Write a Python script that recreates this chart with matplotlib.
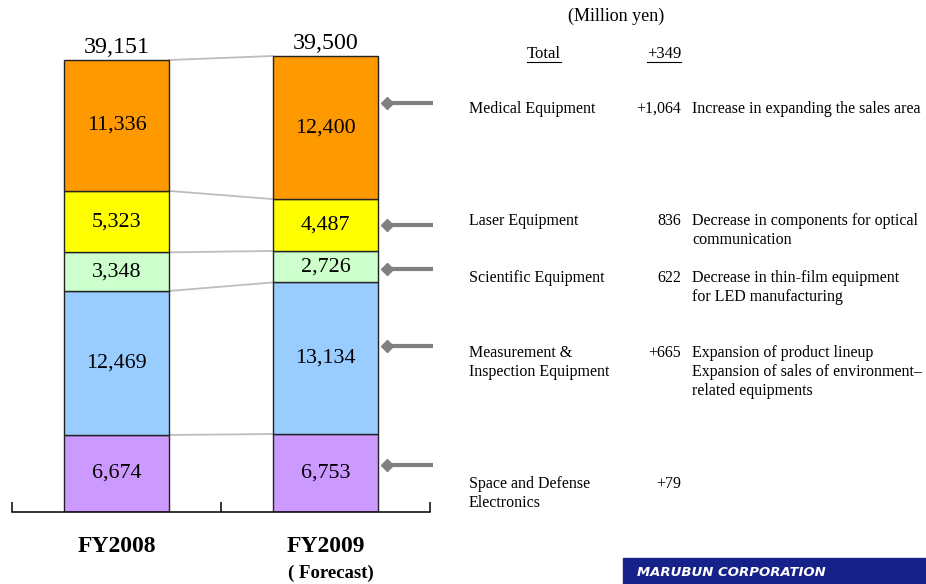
import matplotlib
matplotlib.use("Agg")
import matplotlib.pyplot as plt
from matplotlib.patches import Rectangle

plt.rcParams['font.family'] = ['Liberation Serif', 'DejaVu Serif']

# stacked segments, bottom to top
segments = ['Space and Defense Electronics', 'Measurement & Inspection Equipment',
            'Scientific Equipment', 'Laser Equipment', 'Medical Equipment']
fy2008 = [6674, 12469, 3348, 5323, 11336]
fy2009 = [6753, 13134, 2726, 4487, 12400]
totals = ['39,151', '39,500']
seg_colors = ['#CC99FF', '#99CCFF', '#CCFFCC', '#FFFF00', '#FF9900']

# right-hand breakdown, top to bottom
row_names = ['Medical Equipment', 'Laser Equipment', 'Scientific Equipment',
             'Measurement &\nInspection Equipment', 'Space and Defense\nElectronics']
row_changes = ['+1,064', '836', '622', '+665', '+79']
row_notes = ['Increase in expanding the sales area',
             'Decrease in components for optical\ncommunication',
             'Decrease in thin-film equipment\nfor LED manufacturing',
             'Expansion of product lineup\nExpansion of sales of environment\u2013\nrelated equipments',
             '']
row_y = [109, 221, 278, 353, 484]
arrow_y = [103, 225, 269, 346, 465]

W, H = 926, 584
fig = plt.figure(figsize=(W / 100, H / 100), dpi=100)
ax = fig.add_axes([12 / W, 72 / H, 418 / W, 461.8 / H])

bottoms = [0, 0]
cum = [[0], [0]]
for i in range(len(segments)):
    vals = [fy2008[i], fy2009[i]]
    ax.bar([0, 1], vals, bottom=bottoms, width=0.5, color=seg_colors[i],
           edgecolor='#222222', linewidth=1, zorder=2)
    for j in range(2):
        ax.text(j, bottoms[j] + vals[j] / 2, '{:,}'.format(vals[j]),
                ha='center', va='center', fontsize=15.8, zorder=3)
        cum[j].append(bottoms[j] + vals[j])
    bottoms = [bottoms[0] + vals[0], bottoms[1] + vals[1]]

# connector lines between the two bars
for k in range(1, len(cum[0])):
    ax.plot([0.25, 0.75], [cum[0][k], cum[1][k]], color='#bdbdbd', lw=1.3, zorder=1)

for j in range(2):
    ax.text(j, bottoms[j] + 200, totals[j], ha='center', va='bottom', fontsize=17.3)

ax.set_xlim(-0.5, 1.5)
ax.set_ylim(0, 40000)
for s in ['top', 'left', 'right']:
    ax.spines[s].set_visible(False)
ax.spines['bottom'].set_linewidth(1.1)
ax.set_xticks([-0.5, 0.5, 1.5])
ax.set_xticklabels([])
ax.tick_params(axis='x', direction='in', length=7, width=1.1)
ax.set_yticks([])

# overlay in pixel coordinates for the annotations
ov = fig.add_axes([0, 0, 1, 1])
ov.set_xlim(0, W)
ov.set_ylim(H, 0)
ov.axis('off')

ov.text(117, 546, 'FY2008', ha='center', va='center', fontsize=17, fontweight='bold')
ov.text(326, 546, 'FY2009', ha='center', va='center', fontsize=17, fontweight='bold')
ov.text(331, 573, '( Forecast)', ha='center', va='center', fontsize=13.5, fontweight='bold')

ov.text(616, 16, '(Million yen)', ha='center', va='center', fontsize=13)
t1 = ov.text(544, 54, 'Total', ha='center', va='center', fontsize=12)
t2 = ov.text(681, 54, '+349', ha='right', va='center', fontsize=12)

for y in arrow_y:
    ov.plot([390, 433], [y, y], color='#808080', lw=3, solid_capstyle='butt')
    ov.plot(387, y, marker='D', ms=6.5, color='#808080', mec='#808080')

line_h = 19
for name, chg, note, y in zip(row_names, row_changes, row_notes, row_y):
    for i, ln in enumerate(name.split('\n')):
        ov.text(469, y + i * line_h, ln, ha='left', va='center', fontsize=11.5)
    ov.text(681, y, chg, ha='right', va='center', fontsize=11.5)
    if note:
        for i, ln in enumerate(note.split('\n')):
            ov.text(692, y + i * line_h, ln, ha='left', va='center', fontsize=11.5)

# underline Total / +349
fig.canvas.draw()
inv = ov.transData.inverted()
for t in (t1, t2):
    bb = t.get_window_extent()
    (x0, _), (x1, _) = inv.transform([(bb.x0, bb.y0), (bb.x1, bb.y0)])
    ov.plot([x0, x1], [62, 62], color='black', lw=0.8)

# company banner
ov.add_patch(Rectangle((623, 558), W - 623, H - 558, color='#16228A', zorder=1))
ov.text(637, 572, 'MARUBUN CORPORATION', ha='left', va='center', color='white',
        fontsize=9.5, fontweight='bold', style='italic', family='DejaVu Sans', zorder=2)

fig.savefig('out.png', dpi=100)
